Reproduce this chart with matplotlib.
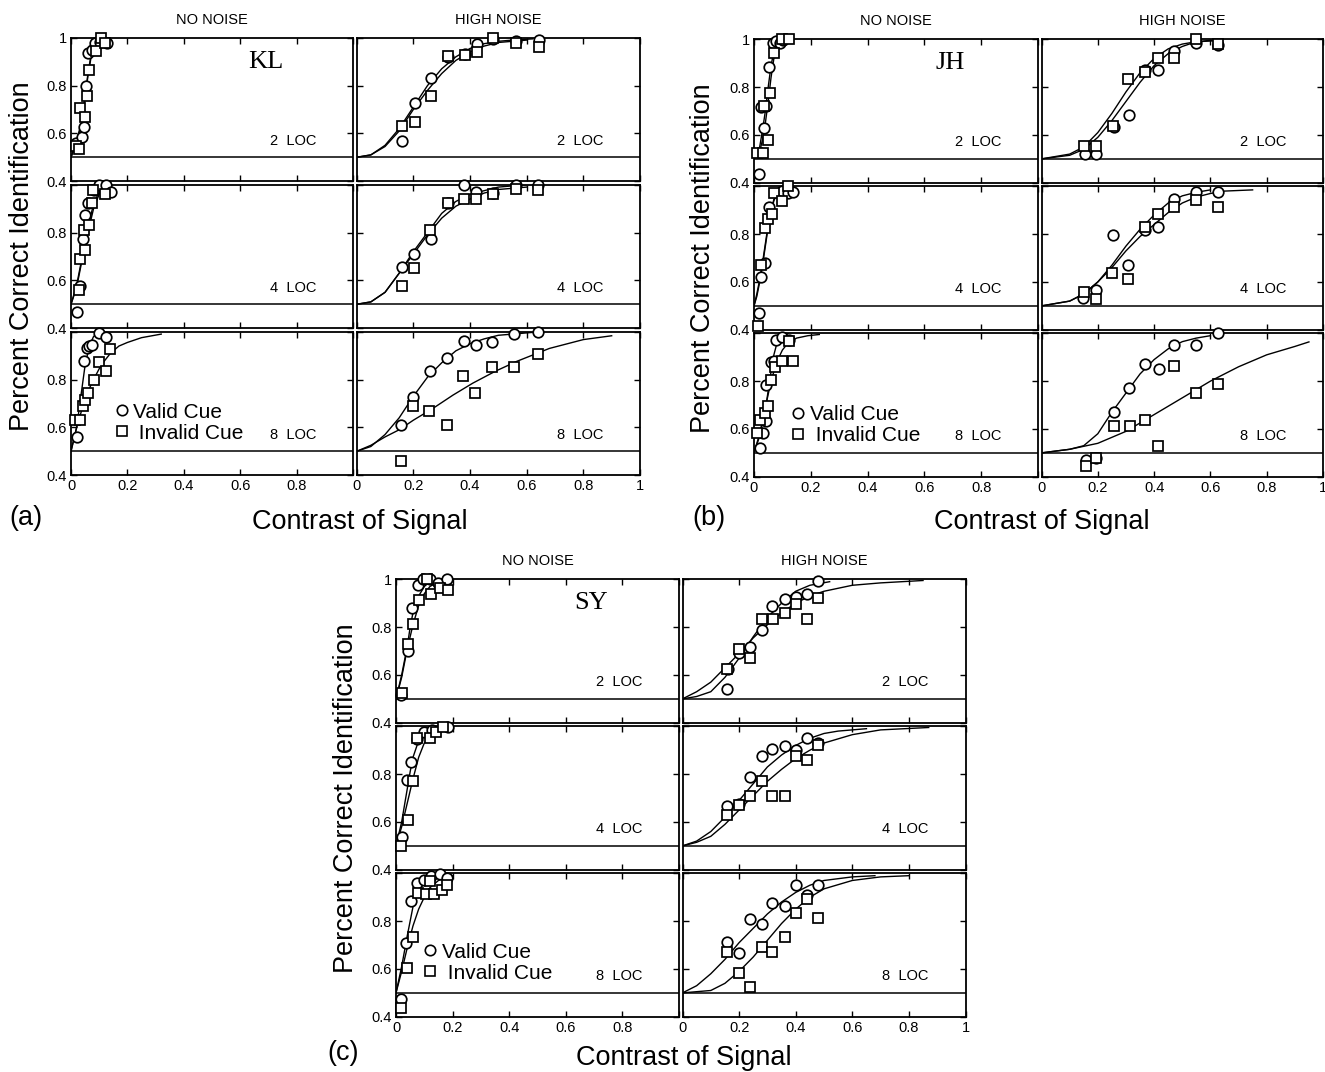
import matplotlib
matplotlib.use('Agg')
import matplotlib.pyplot as plt
from matplotlib.lines import Line2D

plt.rcParams['font.family'] = ['Liberation Sans', 'DejaVu Sans']

# ---- data: (contrast, percent correct) per LOC condition (2, 4, 8 LOC) ----
loc_labels = ['2  LOC', '4  LOC', '8  LOC']
observers = ['KL', 'JH', 'SY']
panel_letters = ['(a)', '(b)', '(c)']

# KL, no noise
kl_nn_valid = [
    [(0.018, 0.558), (0.038, 0.585), (0.047, 0.625), (0.053, 0.80), (0.061, 0.934), (0.073, 0.948), (0.085, 0.976), (0.102, 0.983), (0.128, 0.979)],
    [(0.022, 0.469), (0.032, 0.576), (0.044, 0.771), (0.049, 0.872), (0.061, 0.924), (0.082, 0.979), (0.100, 1.0), (0.124, 1.0), (0.141, 0.969)],
    [(0.022, 0.558), (0.047, 0.879), (0.055, 0.932), (0.065, 0.942), (0.076, 0.946), (0.100, 0.994), (0.124, 0.976)],
]
kl_nn_invalid = [
    [(0.018, 0.546), (0.028, 0.533), (0.032, 0.708), (0.049, 0.669), (0.058, 0.756), (0.065, 0.867), (0.088, 0.946), (0.106, 1.0), (0.122, 0.979)],
    [(0.028, 0.56), (0.032, 0.688), (0.049, 0.726), (0.047, 0.812), (0.065, 0.831), (0.076, 0.924), (0.079, 0.979), (0.121, 0.963)],
    [(0.014, 0.632), (0.032, 0.632), (0.041, 0.691), (0.049, 0.716), (0.061, 0.744), (0.082, 0.80), (0.1, 0.873), (0.124, 0.837), (0.138, 0.928)],
]
kl_nn_valid_fit = [
    [(0, 0.5), (0.02, 0.56), (0.04, 0.65), (0.05, 0.75), (0.06, 0.85), (0.07, 0.92), (0.08, 0.96), (0.1, 0.99), (0.12, 1.0)],
    [(0, 0.5), (0.02, 0.58), (0.04, 0.7), (0.06, 0.82), (0.08, 0.92), (0.1, 0.97), (0.12, 0.99)],
    [(0, 0.5), (0.02, 0.6), (0.035, 0.73), (0.05, 0.86), (0.065, 0.94), (0.08, 0.98), (0.1, 1.0)],
]
kl_nn_invalid_fit = [
    [(0, 0.5), (0.02, 0.57), (0.04, 0.66), (0.05, 0.75), (0.06, 0.84), (0.07, 0.91), (0.08, 0.955), (0.1, 0.985), (0.12, 0.997)],
    [(0, 0.5), (0.02, 0.57), (0.04, 0.69), (0.06, 0.8), (0.08, 0.9), (0.1, 0.96), (0.12, 0.985)],
    [(0, 0.5), (0.02, 0.6), (0.04, 0.68), (0.06, 0.75), (0.08, 0.8), (0.1, 0.845), (0.12, 0.88), (0.14, 0.91), (0.17, 0.94), (0.2, 0.955), (0.25, 0.975), (0.32, 0.99)],
]

# KL, high noise
kl_hn_valid = [
    [(0.159, 0.569), (0.206, 0.725), (0.262, 0.83), (0.321, 0.92), (0.382, 0.93), (0.424, 0.972), (0.482, 0.993), (0.561, 0.986), (0.644, 0.99)],
    [(0.159, 0.657), (0.204, 0.71), (0.262, 0.772), (0.321, 0.924), (0.38, 1.0), (0.421, 0.969), (0.48, 0.965), (0.561, 1.0), (0.641, 1.0)],
    [(0.155, 0.611), (0.2, 0.726), (0.259, 0.834), (0.318, 0.89), (0.379, 0.96), (0.42, 0.946), (0.479, 0.957), (0.556, 0.99), (0.639, 1.0)],
]
kl_hn_invalid = [
    [(0.161, 0.63), (0.206, 0.648), (0.262, 0.757), (0.321, 0.925), (0.382, 0.927), (0.424, 0.941), (0.482, 1.0), (0.561, 0.979), (0.644, 0.962)],
    [(0.159, 0.576), (0.204, 0.65), (0.259, 0.81), (0.321, 0.924), (0.38, 0.942), (0.421, 0.942), (0.48, 0.963), (0.561, 0.983), (0.641, 0.979)],
    [(0.155, 0.461), (0.2, 0.688), (0.256, 0.667), (0.318, 0.611), (0.376, 0.813), (0.418, 0.744), (0.479, 0.851), (0.556, 0.851), (0.639, 0.907)],
]
kl_hn_valid_fit = [
    [(0, 0.5), (0.05, 0.51), (0.1, 0.55), (0.15, 0.62), (0.2, 0.71), (0.25, 0.8), (0.3, 0.87), (0.35, 0.92), (0.4, 0.955), (0.45, 0.975), (0.5, 0.985), (0.55, 0.99), (0.62, 0.995)],
    [(0, 0.5), (0.05, 0.51), (0.1, 0.55), (0.15, 0.63), (0.2, 0.72), (0.25, 0.8), (0.3, 0.88), (0.35, 0.93), (0.4, 0.96), (0.5, 0.99), (0.6, 1.0)],
    [(0, 0.5), (0.05, 0.52), (0.1, 0.57), (0.15, 0.64), (0.2, 0.73), (0.25, 0.81), (0.3, 0.87), (0.35, 0.92), (0.4, 0.95), (0.45, 0.97), (0.5, 0.985), (0.6, 0.995), (0.65, 1.0)],
]
kl_hn_invalid_fit = [
    [(0, 0.5), (0.05, 0.51), (0.1, 0.545), (0.15, 0.61), (0.2, 0.7), (0.25, 0.78), (0.3, 0.85), (0.35, 0.905), (0.4, 0.94), (0.45, 0.965), (0.5, 0.98), (0.6, 0.99)],
    [(0, 0.5), (0.05, 0.51), (0.1, 0.55), (0.15, 0.63), (0.2, 0.71), (0.25, 0.79), (0.3, 0.86), (0.35, 0.91), (0.4, 0.94), (0.45, 0.965), (0.5, 0.98), (0.6, 0.99)],
    [(0, 0.5), (0.05, 0.525), (0.1, 0.56), (0.15, 0.59), (0.2, 0.63), (0.27, 0.68), (0.34, 0.735), (0.41, 0.785), (0.49, 0.835), (0.565, 0.876), (0.68, 0.93), (0.8, 0.967), (0.9, 0.983)],
]

# JH, no noise
jh_nn_valid = [
    [(0.018, 0.436), (0.025, 0.718), (0.036, 0.63), (0.042, 0.72), (0.054, 0.886), (0.068, 0.983), (0.079, 0.994), (0.093, 0.983), (0.103, 0.997)],
    [(0.018, 0.469), (0.025, 0.621), (0.039, 0.679), (0.053, 0.913), (0.091, 0.972), (0.097, 0.982), (0.12, 0.972), (0.136, 0.977)],
    [(0.021, 0.52), (0.03, 0.583), (0.042, 0.634), (0.042, 0.784), (0.06, 0.881), (0.071, 0.884), (0.077, 0.971), (0.1, 0.985), (0.124, 0.971)],
]
jh_nn_invalid = [
    [(0.009, 0.526), (0.03, 0.523), (0.034, 0.72), (0.048, 0.579), (0.058, 0.774), (0.07, 0.944), (0.097, 1.0), (0.124, 1.0)],
    [(0.015, 0.414), (0.025, 0.669), (0.039, 0.825), (0.05, 0.862), (0.065, 0.883), (0.071, 0.972), (0.097, 0.938), (0.12, 1.0)],
    [(0.009, 0.583), (0.021, 0.638), (0.039, 0.666), (0.05, 0.697), (0.06, 0.805), (0.074, 0.86), (0.097, 0.884), (0.124, 0.967), (0.136, 0.884)],
]
jh_nn_valid_fit = [
    [(0, 0.5), (0.02, 0.55), (0.03, 0.62), (0.04, 0.7), (0.05, 0.8), (0.06, 0.89), (0.07, 0.95), (0.08, 0.98), (0.1, 1.0)],
    [(0, 0.5), (0.01, 0.55), (0.02, 0.61), (0.03, 0.68), (0.04, 0.76), (0.05, 0.84), (0.06, 0.9), (0.07, 0.945), (0.08, 0.97), (0.1, 0.99), (0.12, 1.0)],
    [(0, 0.5), (0.02, 0.57), (0.04, 0.68), (0.05, 0.76), (0.06, 0.84), (0.07, 0.91), (0.08, 0.955), (0.09, 0.98), (0.1, 0.99), (0.12, 1.0)],
]
jh_nn_invalid_fit = [
    [(0, 0.5), (0.02, 0.53), (0.03, 0.58), (0.04, 0.65), (0.05, 0.74), (0.06, 0.84), (0.07, 0.92), (0.08, 0.97), (0.1, 1.0)],
    [(0, 0.5), (0.01, 0.54), (0.02, 0.6), (0.03, 0.67), (0.04, 0.75), (0.05, 0.83), (0.06, 0.89), (0.07, 0.94), (0.08, 0.965), (0.1, 0.99), (0.12, 1.0)],
    [(0, 0.5), (0.02, 0.58), (0.04, 0.69), (0.06, 0.8), (0.08, 0.88), (0.1, 0.93), (0.12, 0.96), (0.15, 0.98), (0.19, 0.99), (0.23, 0.995)],
]

# JH, high noise
jh_hn_valid = [
    [(0.154, 0.52), (0.195, 0.52), (0.256, 0.634), (0.311, 0.683), (0.367, 0.872), (0.414, 0.872), (0.469, 0.953), (0.55, 0.986), (0.628, 0.976)],
    [(0.148, 0.534), (0.195, 0.568), (0.253, 0.796), (0.309, 0.669), (0.369, 0.817), (0.413, 0.828), (0.469, 0.948), (0.55, 0.977), (0.628, 0.977)],
    [(0.157, 0.469), (0.195, 0.479), (0.256, 0.669), (0.311, 0.77), (0.369, 0.87), (0.416, 0.85), (0.471, 0.953), (0.55, 0.953), (0.628, 1.0)],
]
jh_hn_invalid = [
    [(0.152, 0.555), (0.195, 0.555), (0.253, 0.637), (0.309, 0.833), (0.369, 0.865), (0.413, 0.92), (0.469, 0.92), (0.55, 1.0), (0.628, 0.98)],
    [(0.152, 0.559), (0.195, 0.527), (0.251, 0.637), (0.309, 0.614), (0.369, 0.828), (0.413, 0.886), (0.469, 0.914), (0.55, 0.941), (0.628, 0.914)],
    [(0.157, 0.447), (0.195, 0.479), (0.256, 0.613), (0.314, 0.613), (0.369, 0.638), (0.414, 0.527), (0.471, 0.864), (0.55, 0.749), (0.628, 0.788)],
]
jh_hn_valid_fit = [
    [(0, 0.5), (0.1, 0.515), (0.15, 0.54), (0.2, 0.59), (0.25, 0.66), (0.3, 0.74), (0.35, 0.82), (0.4, 0.89), (0.45, 0.94), (0.5, 0.97), (0.55, 0.99), (0.64, 0.995)],
    [(0, 0.5), (0.1, 0.52), (0.15, 0.55), (0.2, 0.6), (0.25, 0.67), (0.3, 0.75), (0.35, 0.82), (0.4, 0.88), (0.45, 0.93), (0.5, 0.96), (0.55, 0.975), (0.6, 0.985)],
    [(0, 0.5), (0.1, 0.515), (0.15, 0.53), (0.2, 0.58), (0.25, 0.67), (0.3, 0.75), (0.35, 0.83), (0.4, 0.89), (0.45, 0.935), (0.5, 0.965), (0.55, 0.98), (0.6, 0.99)],
]
jh_hn_invalid_fit = [
    [(0, 0.5), (0.1, 0.52), (0.15, 0.55), (0.2, 0.61), (0.25, 0.69), (0.3, 0.78), (0.35, 0.86), (0.4, 0.92), (0.45, 0.96), (0.5, 0.98), (0.55, 0.99), (0.64, 1.0)],
    [(0, 0.5), (0.1, 0.52), (0.15, 0.55), (0.2, 0.6), (0.25, 0.66), (0.3, 0.73), (0.35, 0.79), (0.4, 0.84), (0.45, 0.89), (0.5, 0.93), (0.55, 0.955), (0.6, 0.97), (0.65, 0.98), (0.75, 0.985)],
    [(0, 0.5), (0.1, 0.515), (0.2, 0.54), (0.3, 0.59), (0.4, 0.66), (0.5, 0.73), (0.6, 0.8), (0.7, 0.86), (0.8, 0.91), (0.9, 0.945), (0.95, 0.964)],
]

# SY, no noise
sy_nn_valid = [
    [(0.018, 0.516), (0.044, 0.7), (0.055, 0.879), (0.076, 0.976), (0.096, 1.0), (0.12, 1.0), (0.149, 0.983), (0.181, 1.0)],
    [(0.02, 0.539), (0.04, 0.774), (0.053, 0.849), (0.075, 0.946), (0.099, 0.978), (0.126, 0.985), (0.185, 0.997)],
    [(0.018, 0.476), (0.035, 0.709), (0.053, 0.886), (0.075, 0.96), (0.1, 0.974), (0.124, 0.987), (0.155, 0.997), (0.179, 0.98)],
]
sy_nn_invalid = [
    [(0.02, 0.523), (0.044, 0.728), (0.061, 0.812), (0.082, 0.913), (0.108, 1.0), (0.124, 0.937), (0.155, 0.962), (0.185, 0.955)],
    [(0.018, 0.5), (0.041, 0.609), (0.061, 0.77), (0.075, 0.951), (0.12, 0.951), (0.141, 0.978), (0.167, 0.995)],
    [(0.018, 0.438), (0.038, 0.605), (0.059, 0.733), (0.076, 0.918), (0.106, 0.914), (0.12, 0.967), (0.134, 0.914), (0.161, 0.932), (0.179, 0.95)],
]
sy_nn_valid_fit = [
    [(0, 0.5), (0.02, 0.6), (0.03, 0.66), (0.04, 0.72), (0.05, 0.8), (0.06, 0.86), (0.08, 0.93), (0.1, 0.97), (0.12, 0.99), (0.15, 1.0)],
    [(0, 0.5), (0.02, 0.6), (0.03, 0.67), (0.04, 0.74), (0.05, 0.81), (0.06, 0.87), (0.08, 0.94), (0.1, 0.975), (0.13, 0.99), (0.19, 1.0)],
    [(0, 0.5), (0.02, 0.61), (0.04, 0.74), (0.06, 0.86), (0.08, 0.94), (0.1, 0.98), (0.12, 0.99), (0.15, 1.0)],
]
sy_nn_invalid_fit = [
    [(0, 0.5), (0.02, 0.59), (0.04, 0.71), (0.06, 0.81), (0.08, 0.89), (0.1, 0.94), (0.12, 0.97), (0.15, 0.99), (0.19, 1.0)],
    [(0, 0.5), (0.02, 0.58), (0.04, 0.68), (0.06, 0.78), (0.08, 0.87), (0.1, 0.93), (0.13, 0.97), (0.17, 0.99), (0.19, 1.0)],
    [(0, 0.5), (0.02, 0.59), (0.04, 0.69), (0.06, 0.78), (0.08, 0.85), (0.1, 0.9), (0.12, 0.94), (0.15, 0.97), (0.2, 0.99)],
]

# SY, high noise
sy_hn_valid = [
    [(0.159, 0.541), (0.161, 0.627), (0.2, 0.693), (0.239, 0.715), (0.282, 0.788), (0.318, 0.89), (0.362, 0.916), (0.4, 0.927), (0.441, 0.939), (0.479, 0.993)],
    [(0.159, 0.668), (0.2, 0.675), (0.239, 0.79), (0.28, 0.877), (0.318, 0.905), (0.361, 0.916), (0.4, 0.902), (0.441, 0.953), (0.479, 0.93)],
    [(0.159, 0.712), (0.2, 0.665), (0.239, 0.811), (0.28, 0.789), (0.318, 0.876), (0.361, 0.862), (0.4, 0.949), (0.441, 0.911), (0.479, 0.949)],
]
sy_hn_invalid = [
    [(0.159, 0.627), (0.2, 0.707), (0.239, 0.673), (0.28, 0.834), (0.321, 0.834), (0.362, 0.858), (0.4, 0.897), (0.441, 0.834), (0.479, 0.92)],
    [(0.159, 0.63), (0.2, 0.672), (0.239, 0.71), (0.28, 0.772), (0.318, 0.71), (0.361, 0.71), (0.4, 0.877), (0.441, 0.86), (0.479, 0.92)],
    [(0.159, 0.67), (0.2, 0.584), (0.239, 0.524), (0.28, 0.691), (0.318, 0.67), (0.361, 0.734), (0.4, 0.832), (0.441, 0.893), (0.479, 0.814)],
]
sy_hn_valid_fit = [
    [(0, 0.5), (0.05, 0.51), (0.1, 0.53), (0.15, 0.59), (0.2, 0.67), (0.25, 0.76), (0.3, 0.84), (0.35, 0.9), (0.4, 0.95), (0.45, 0.975), (0.52, 0.99)],
    [(0, 0.5), (0.05, 0.52), (0.1, 0.56), (0.15, 0.62), (0.2, 0.69), (0.25, 0.76), (0.3, 0.83), (0.35, 0.88), (0.4, 0.92), (0.45, 0.95), (0.5, 0.97), (0.55, 0.98), (0.65, 0.99)],
    [(0, 0.5), (0.05, 0.53), (0.1, 0.58), (0.15, 0.64), (0.2, 0.71), (0.25, 0.77), (0.3, 0.83), (0.35, 0.88), (0.4, 0.92), (0.45, 0.95), (0.5, 0.97), (0.6, 0.985), (0.68, 0.99)],
]
sy_hn_invalid_fit = [
    [(0, 0.5), (0.05, 0.53), (0.1, 0.57), (0.15, 0.63), (0.2, 0.69), (0.25, 0.755), (0.3, 0.81), (0.35, 0.86), (0.4, 0.9), (0.45, 0.93), (0.5, 0.95), (0.6, 0.975), (0.7, 0.985), (0.85, 0.995)],
    [(0, 0.5), (0.05, 0.515), (0.1, 0.54), (0.15, 0.59), (0.2, 0.65), (0.25, 0.71), (0.3, 0.77), (0.35, 0.82), (0.4, 0.865), (0.45, 0.9), (0.5, 0.93), (0.6, 0.965), (0.7, 0.985), (0.87, 0.995)],
    [(0, 0.5), (0.1, 0.51), (0.15, 0.54), (0.2, 0.59), (0.25, 0.65), (0.3, 0.72), (0.35, 0.79), (0.4, 0.85), (0.45, 0.9), (0.5, 0.935), (0.6, 0.97), (0.7, 0.985), (0.8, 0.99)],
]

# ---- layout (pixel boxes measured on the 1325x1072 original) ----
W, H = 1325, 1072
fig = plt.figure(figsize=(W / 100, H / 100), dpi=100)

ROW_H, ROW_GAP = 143.5, 3.5


def rows_from(top):
    return [(top + i * (ROW_H + ROW_GAP), top + i * (ROW_H + ROW_GAP) + ROW_H) for i in range(3)]


layout = [
    dict(cols=[(71, 353), (356.7, 640)], rows=rows_from(37.7),
         ylab_x=22, xlab=(360, 522), letter=(26, 518), leg=(0.15, 0.366)),
    dict(cols=[(754, 1038), (1041.5, 1323)], rows=rows_from(39.3),
         ylab_x=703, xlab=(1042, 522), letter=(709, 518), leg=(0.127, 0.362)),
    dict(cols=[(396, 679), (682.5, 965.5)], rows=rows_from(579.3),
         ylab_x=346, xlab=(684, 1058), letter=(343, 1053), leg=(0.091, 0.377)),
]
data = [
    [(kl_nn_valid, kl_nn_invalid, kl_nn_valid_fit, kl_nn_invalid_fit),
     (kl_hn_valid, kl_hn_invalid, kl_hn_valid_fit, kl_hn_invalid_fit)],
    [(jh_nn_valid, jh_nn_invalid, jh_nn_valid_fit, jh_nn_invalid_fit),
     (jh_hn_valid, jh_hn_invalid, jh_hn_valid_fit, jh_hn_invalid_fit)],
    [(sy_nn_valid, sy_nn_invalid, sy_nn_valid_fit, sy_nn_invalid_fit),
     (sy_hn_valid, sy_hn_invalid, sy_hn_valid_fit, sy_hn_invalid_fit)],
]

mk = dict(ls='none', mfc='white', mec='black', mew=1.25, ms=7.6, clip_on=False, zorder=3)


def xy(pts):
    return [p[0] for p in pts], [p[1] for p in pts]


for p, lay in enumerate(layout):
    for c, (x0, x1) in enumerate(lay['cols']):
        valid, invalid, vfit, ifit = data[p][c]
        for r, (y0, y1) in enumerate(lay['rows']):
            ax = fig.add_axes([x0 / W, 1 - y1 / H, (x1 - x0) / W, (y1 - y0) / H])
            ax.set_xlim(0, 1)
            ax.set_ylim(0.4, 1.0)
            ax.axhline(0.5, color='black', lw=1.1, zorder=1)
            ax.plot(*xy(vfit[r]), color='black', lw=1.0, zorder=2)
            ax.plot(*xy(ifit[r]), color='black', lw=1.0, zorder=2)
            ax.plot(*xy(valid[r]), marker='o', **mk)
            ax.plot(*xy(invalid[r]), marker='s', **mk)
            ax.text(0.87, 0.57, loc_labels[r], ha='right', va='center', fontsize=10.5)

            ax.set_xticks([0, 0.2, 0.4, 0.6, 0.8, 1])
            ax.set_yticks([0.4, 0.6, 0.8, 1])
            if r == 2:
                if c == 0:
                    ax.set_xticklabels(['0', '0.2', '0.4', '0.6', '0.8', ''])
                else:
                    ax.set_xticklabels(['0', '0.2', '0.4', '0.6', '0.8', '1'])
            else:
                ax.set_xticklabels([])
            if c == 0:
                if r == 0:
                    ax.set_yticklabels(['0.4', '0.6', '0.8', '1'])
                else:
                    ax.set_yticklabels(['0.4', '0.6', '0.8', ''])
            else:
                ax.set_yticklabels([])
            ax.tick_params(direction='in', top=True, right=True, length=4, width=1,
                           labelsize=10.5, pad=3)
            for s in ax.spines.values():
                s.set_linewidth(1.3)

            if c == 0 and r == 0:
                ax.text(0.69, 0.9, observers[p], ha='center', va='center', fontsize=19,
                        family='Liberation Serif')
            if c == 0 and r == 2:
                handles = [Line2D([], [], ls='none', marker='o', mfc='white', mec='black', mew=1.2, ms=7.5),
                           Line2D([], [], ls='none', marker='s', mfc='white', mec='black', mew=1.2, ms=7.5)]
                ax.legend(handles, ['Valid Cue', ' Invalid Cue'], loc='center left',
                          bbox_to_anchor=lay['leg'], frameon=False, fontsize=15,
                          handlelength=0.8, handletextpad=0.15, borderpad=0,
                          borderaxespad=0, labelspacing=0.1)
        fig.text((x0 + x1) / 2 / W, 1 - (lay['rows'][0][0] - 18) / H,
                 ['NO NOISE', 'HIGH NOISE'][c], ha='center', va='center', fontsize=10.5)

    ytop, ybot = lay['rows'][0][0], lay['rows'][2][1]
    fig.text(lay['ylab_x'] / W, 1 - (ytop + ybot) / 2 / H, 'Percent Correct Identification',
             rotation=90, ha='center', va='center', fontsize=19.5)
    fig.text(lay['xlab'][0] / W, 1 - lay['xlab'][1] / H, 'Contrast of Signal',
             ha='center', va='center', fontsize=19.5)
    fig.text(lay['letter'][0] / W, 1 - lay['letter'][1] / H, panel_letters[p],
             ha='center', va='center', fontsize=19.5)

fig.savefig('out.png', dpi=100, facecolor='white')
